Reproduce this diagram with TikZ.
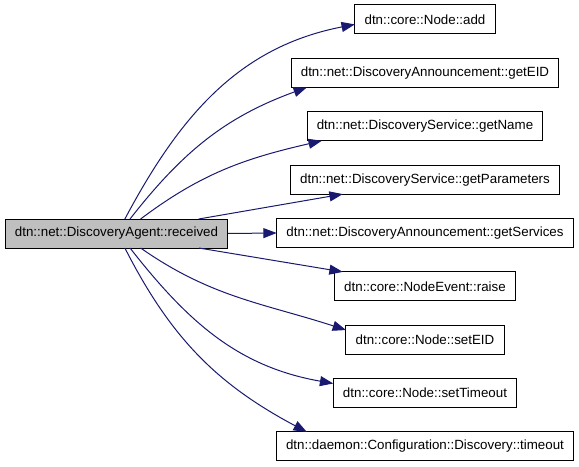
\documentclass[tikz,border=0pt]{standalone}
\usepackage{fontspec}
\setmainfont{Liberation Sans}
\usetikzlibrary{
    arrows.meta, % For arrow tips
    positioning  % For placing the callee column
}

\definecolor{edgeblue}{HTML}{191970}
\definecolor{boxgray}{HTML}{BFBFBF}

\begin{document}
\begin{tikzpicture}[
    x=0.75pt, y=0.75pt,
    >={Triangle[length=10pt, width=7.5pt]}, % Set default arrow tip style
    fn/.style={draw=black, line width=0.75pt, fill=white,
        minimum height=21.75pt, inner xsep=7.3pt, inner ysep=0pt, outer sep=0pt,
        font=\fontsize{10}{12}\selectfont}, % Style for function boxes
    current/.style={fn, fill=boxgray},     % The function being graphed
    call/.style={->, line width=0.75pt, color=edgeblue} % Style for call edges
]
    \useasboundingbox (0,0) rectangle (579,-467);

    % Caller
    \node[current] (recv) at (116.5,-233.5) {dtn::net::DiscoveryAgent::received};

    % Callees, one column
    \node[fn] (add) at (425,-19.5) {dtn::core::Node::add};
    \node[fn, below=18.28pt of add] (geteid) {dtn::net::DiscoveryAnnouncement::getEID};
    \node[fn, below=18.28pt of geteid] (getname) {dtn::net::DiscoveryService::getName};
    \node[fn, below=18.28pt of getname] (getparams) {dtn::net::DiscoveryService::getParameters};
    \node[fn, below=18.28pt of getparams] (getservices) {dtn::net::DiscoveryAnnouncement::getServices};
    \node[fn, below=18.28pt of getservices] (raise) {dtn::core::NodeEvent::raise};
    \node[fn, below=18.28pt of raise] (seteid) {dtn::core::Node::setEID};
    \node[fn, below=18.28pt of seteid] (settimeout) {dtn::core::Node::setTimeout};
    \node[fn, below=18.28pt of settimeout] (timeout) {dtn::daemon::Configuration::Discovery::timeout};

    % Calls above the caller
    \draw[call] (recv.60) to[out=62, in=191] (add.184);
    \draw[call] (recv.47) to[out=52, in=200] (geteid.187);
    \draw[call] (recv.31) to[out=37, in=193] (getname.188);
    \draw[call] (recv.10) -- (getparams.190);

    % Straight across
    \draw[call] (recv.east) -- (getservices.west);

    % Calls below the caller
    \draw[call] (recv.-10) -- (raise.170);
    \draw[call] (recv.-31) to[out=-35, in=162] (seteid.173);
    \draw[call] (recv.-47) to[out=-52, in=170] (settimeout.174);
    \draw[call] (recv.-60) to[out=-63, in=152] (timeout.173);
\end{tikzpicture}
\end{document}
